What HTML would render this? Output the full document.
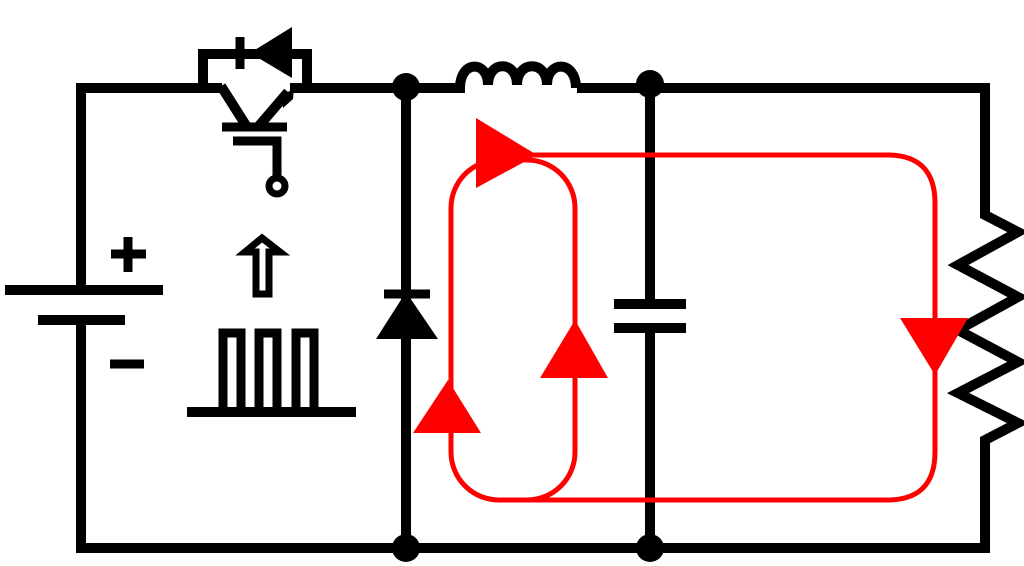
<!DOCTYPE html>
<html><head><style>html,body{margin:0;padding:0;background:#fff;}svg{display:block}</style></head>
<body>
<svg width="1024" height="566" viewBox="0 0 1024 566" xmlns="http://www.w3.org/2000/svg">
<g stroke="#000" stroke-width="10" fill="none" stroke-linecap="butt">
  <!-- left wire + battery -->
  <polyline points="81,290 81,88 222,88"/>
  <line x1="81" y1="320" x2="81" y2="548"/>
  <line x1="5" y1="290" x2="163" y2="290"/>
  <line x1="38" y1="320" x2="125" y2="320"/>
  <line x1="76" y1="548" x2="990" y2="548"/>
  <!-- top wire -->
  <line x1="290" y1="88" x2="460" y2="88"/>
  <line x1="577" y1="88" x2="985" y2="88"/>
  <!-- resistor -->
  <polyline points="985,83 985,215 1018,232 958,265 1018,297 958,330 1018,362 958,393 1018,423 985,440 985,553"/>
  <!-- inductor -->
  <path d="M458,88 L460,88 C460,60 488,60 488,85 C488,60 517,60 517,85 C517,60 547,60 547,85 C547,60 576,60 576,88"/>
  <!-- diode branch -->
  <line x1="406" y1="88" x2="406" y2="548"/>
  <!-- cap branch -->
  <line x1="650" y1="88" x2="650" y2="304"/>
  <line x1="650" y1="328" x2="650" y2="548"/>
  <line x1="614" y1="304" x2="686" y2="304"/>
  <line x1="614" y1="328" x2="686" y2="328"/>
  <!-- IGBT -->
  <polyline points="203,88 203,54 307,54 307,88"/>
  <line x1="221" y1="86" x2="247" y2="127"/>
  <line x1="258" y1="127" x2="288" y2="92"/>
  <line x1="222" y1="127" x2="287" y2="127" stroke-width="9"/>
  <polyline points="233,141 277,141 277,180" stroke-width="9"/>
  <circle cx="277" cy="186" r="8" stroke-width="7"/>
  <line x1="240" y1="37" x2="240" y2="69" stroke-width="9"/>
  <!-- pulses -->
  <line x1="187" y1="412" x2="356" y2="412"/>
  <path d="M223,412 V333 H241 V412 M259,412 V333 H277 V412 M296,412 V333 H314 V412" stroke-width="9"/>
  <!-- gate arrow -->
  <path d="M256,294 V252 H245 L262,238 L280,252 H269 V294 Z" stroke-width="7"/>
  <!-- diode bar -->
  <line x1="384" y1="294" x2="430" y2="294" stroke-width="9"/>
  <!-- +/- -->
  <line x1="111" y1="254" x2="146" y2="254" stroke-width="9"/>
  <line x1="128" y1="237" x2="128" y2="272" stroke-width="9"/>
  <line x1="110" y1="364" x2="144" y2="364" stroke-width="9"/>
</g>
<g fill="#000">
  <polygon points="250,53 292,27 292,78"/>
  <polygon points="282,96 294,88 293,99 283,108" />
  <polygon points="406,292 376,339 438,339"/>
  <circle cx="406" cy="87" r="14"/>
  <circle cx="650" cy="84" r="14"/>
  <circle cx="406" cy="548" r="14"/>
  <circle cx="650" cy="548" r="14"/>
</g>
<g stroke="#f00" stroke-width="5" fill="none">
  <rect x="451" y="160" width="124" height="340" rx="48"/>
  <path d="M500,155 H887 Q935,155 935,203 V452 Q935,500 887,500 H500"/>
</g>
<g fill="#f00">
  <polygon points="537,155 476,118 476,188"/>
  <polygon points="575,320 540,378 608,378"/>
  <polygon points="448,380 413,433 481,433"/>
  <polygon points="935,375 900,318 968,318"/>
</g>
</svg>
</body></html>
